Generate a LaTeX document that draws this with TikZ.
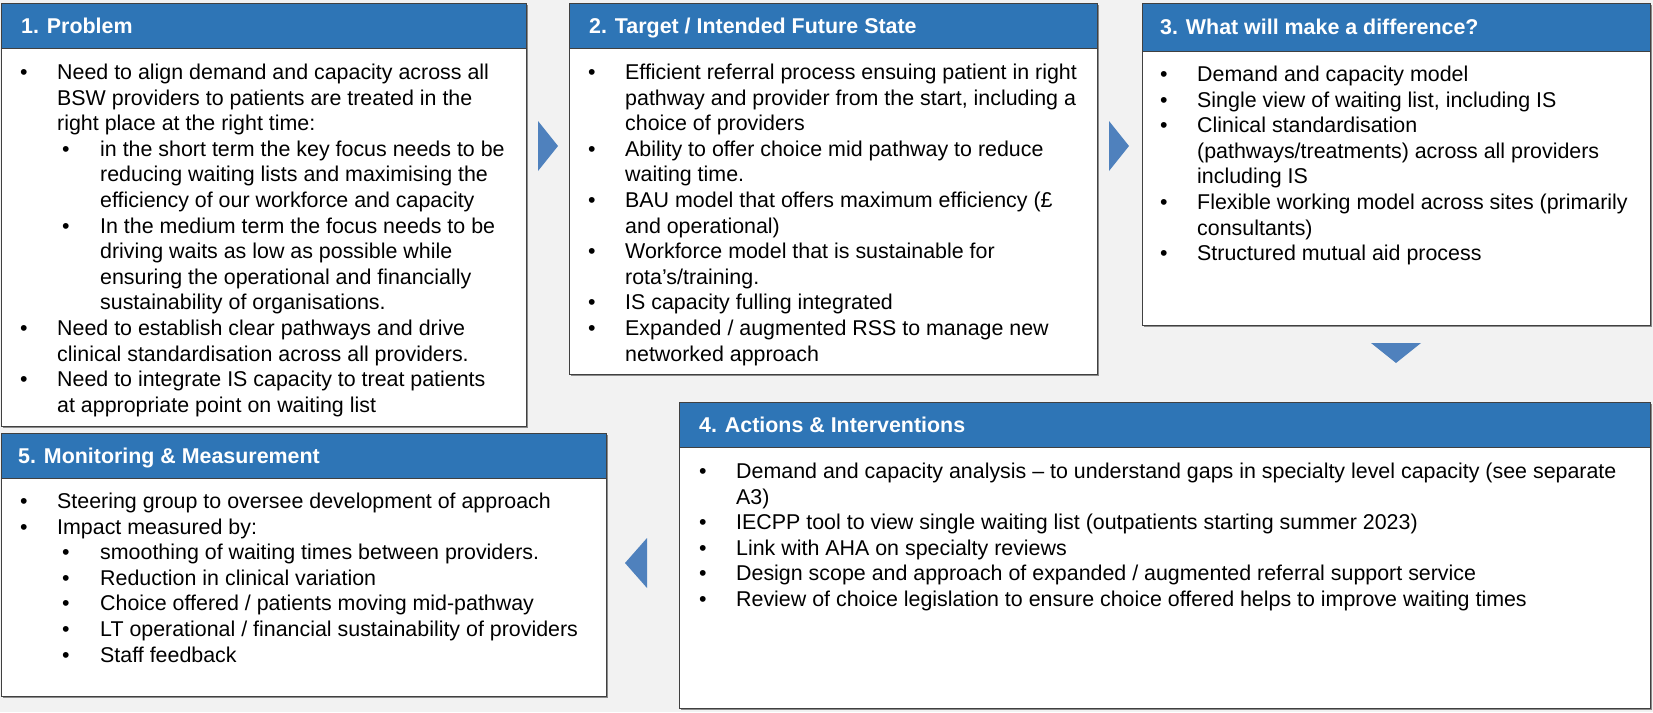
\documentclass[tikz,border=0pt]{standalone}
\usepackage{fontspec}
\setmainfont{Liberation Sans}
\usetikzlibrary{shadows}
\definecolor{bgray}{HTML}{F2F2F2}
\definecolor{hdrblue}{HTML}{2E75B6}
\definecolor{arrblue}{HTML}{4F81BD}
\definecolor{edge}{HTML}{404040}
\definecolor{shade}{HTML}{8C8C8C}
\newcommand\bA{\par\noindent\hangindent=37pt\hangafter=1\makebox[37pt][l]{\textbullet}}
\newcommand\bB{\par\noindent\hangindent=80pt\hangafter=1\hspace*{42pt}\makebox[38pt][l]{\textbullet}}
\newcommand\nl{\newline}
\newcommand\blist[2]{\vtop{\hsize=#1\parindent=0pt\parskip=0pt\rightskip=0pt plus 1fil\relax #2\par}}
\begin{document}
\begin{tikzpicture}[x=1pt,y=-1pt,
  panel/.style={draw=edge, line width=0.9pt, fill=white, inner sep=0pt, anchor=north west,
    drop shadow={shadow xshift=1.6pt, shadow yshift=-1.6pt, fill=shade, opacity=1}},
  hdr/.style={draw=edge, line width=0.9pt, fill=hdrblue, inner sep=0pt, anchor=north west},
  htext/.style={anchor=base west, inner sep=0pt, text=white, font=\fontsize{21.4pt}{25.6pt}\selectfont\bfseries},
  body/.style={anchor=base west, inner sep=0pt, font=\fontsize{21.4pt}{25.6pt}\selectfont},
  tri/.style={fill=arrblue}
]
\useasboundingbox (0,0) rectangle (1653,712);
\fill[bgray] (0,0) rectangle (1653,712);

% Box 1
\node[panel, minimum width=525pt, minimum height=423pt] (b1) at (1,3) {};
\node[hdr, minimum width=525pt, minimum height=45pt] (h1) at (1,3) {};
\node[htext] (h1t) at (21,33.5) {1. Problem};
\node[body] (t1) at (20,79.5) {\blist{500pt}{%
\bA Need to align demand and capacity across all\nl BSW providers to patients are treated in the\nl right place at the right time:
\bB in the short term the key focus needs to be\nl reducing waiting lists and maximising the\nl efficiency of our workforce and capacity
\bB In the medium term the focus needs to be\nl driving waits as low as possible while\nl ensuring the operational and financially\nl sustainability of organisations.
\bA Need to establish clear pathways and drive\nl clinical standardisation across all providers.
\bA Need to integrate IS capacity to treat patients\nl at appropriate point on waiting list}};

% Box 2
\node[panel, minimum width=528pt, minimum height=371pt] (b2) at (569,3) {};
\node[hdr, minimum width=528pt, minimum height=45pt] (h2) at (569,3) {};
\node[htext] (h2t) at (589,33.5) {2. Target / Intended Future State};
\node[body] (t2) at (588,79.5) {\blist{505pt}{%
\bA Efficient referral process ensuing patient in right\nl pathway and provider from the start, including a\nl choice of providers
\bA Ability to offer choice mid pathway to reduce\nl waiting time.
\bA BAU model that offers maximum efficiency (£\nl and operational)
\bA Workforce model that is sustainable for\nl rota’s/training.
\bA IS capacity fulling integrated
\bA Expanded / augmented RSS to manage new\nl networked approach}};

% Box 3
\node[panel, minimum width=508pt, minimum height=322pt] (b3) at (1142,3) {};
\node[hdr, minimum width=508pt, minimum height=47.7pt] (h3) at (1142,3) {};
\node[htext] (h3t) at (1160,34.5) {3. What will make a difference?};
\node[body] (t3) at (1160,81.5) {\blist{488pt}{%
\bA Demand and capacity model
\bA Single view of waiting list, including IS
\bA Clinical standardisation\nl (pathways/treatments) across all providers\nl including IS
\bA Flexible working model across sites (primarily\nl consultants)
\bA Structured mutual aid process}};

% Box 4
\node[panel, minimum width=971pt, minimum height=306pt] (b4) at (679,402) {};
\node[hdr, minimum width=971pt, minimum height=45pt] (h4) at (679,402) {};
\node[htext] (h4t) at (699,432) {4. Actions \& Interventions};
\node[body] (t4) at (699,478.5) {\blist{948pt}{%
\bA Demand and capacity analysis – to understand gaps in specialty level capacity (see separate\nl A3)
\bA IECPP tool to view single waiting list (outpatients starting summer 2023)
\bA Link with AHA on specialty reviews
\bA Design scope and approach of expanded / augmented referral support service
\bA Review of choice legislation to ensure choice offered helps to improve waiting times}};

% Box 5
\node[panel, minimum width=605pt, minimum height=263pt] (b5) at (1,433) {};
\node[hdr, minimum width=605pt, minimum height=45pt] (h5) at (1,433) {};
\node[htext] (h5t) at (18,463.3) {5. Monitoring \& Measurement};
\node[body] (t5) at (20,508.5) {\blist{580pt}{%
\bA Steering group to oversee development of approach
\bA Impact measured by:
\bB smoothing of waiting times between providers.
\bB Reduction in clinical variation
\bB Choice offered / patients moving mid-pathway
\bB LT operational / financial sustainability of providers
\bB Staff feedback}};

% Flow arrows
\fill[tri] (538,121) -- (538,171) -- (558,146) -- cycle;
\fill[tri] (1109,121) -- (1109,171) -- (1129,146) -- cycle;
\fill[tri] (1371,343) -- (1421,343) -- (1396,363) -- cycle;
\fill[tri] (647,538) -- (647,588) -- (625,563) -- cycle;
\end{tikzpicture}
\end{document}
